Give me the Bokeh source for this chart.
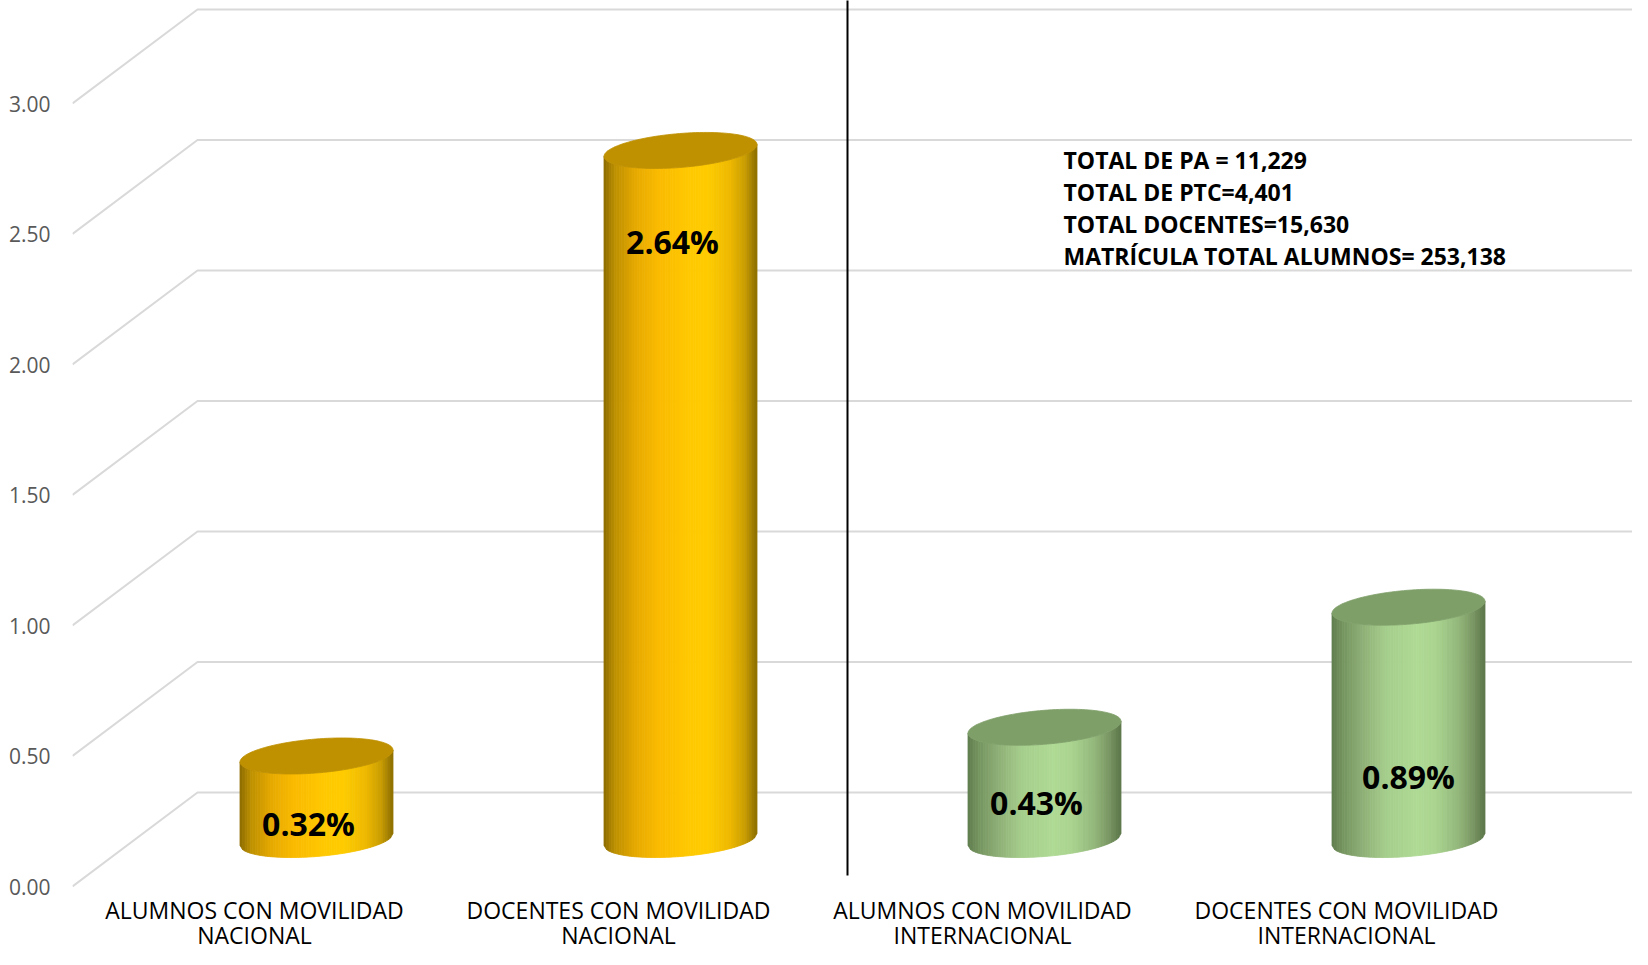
import numpy as np
from bokeh.plotting import figure
from bokeh.models import Range1d, FixedTicker, NumeralTickFormatter
from bokeh.core.properties import value
from bokeh.embed import file_html
from bokeh.resources import INLINE

# ---------------- data ----------------
categories = ["ALUMNOS CON MOVILIDAD\nNACIONAL", "DOCENTES CON MOVILIDAD\nNACIONAL",
              "ALUMNOS CON MOVILIDAD\nINTERNACIONAL", "DOCENTES CON MOVILIDAD\nINTERNACIONAL"]
values = [0.32, 2.64, 0.43, 0.89]
value_labels = ["0.32%", "2.64%", "0.43%", "0.89%"]
groups = ["nacional", "nacional", "internacional", "internacional"]
y_ticks = [0.0, 0.5, 1.0, 1.5, 2.0, 2.5, 3.0]
notes = ["TOTAL DE PA = 11,229", "TOTAL DE PTC=4,401",
         "TOTAL DOCENTES=15,630", "MATRÍCULA TOTAL ALUMNOS= 253,138"]
label_level = [0.24, 2.47, 0.32, 0.42]   # where each value label sits (value units)
label_shift_px = [-8, -8, -8, 0]          # horizontal nudge of each value label

# ---------------- layout helpers (pixels -> data units) ----------------
W, H = 1632, 949
LEFT = 72
PX_X = 364.0          # px per category
PX_Y = 261.0          # px per value unit
Y_TOP = 886 / PX_Y
X_END = (W - LEFT) / PX_X
Y_BOT = Y_TOP - H / PX_Y

def dx(px):
    return px / PX_X

def dy(px):
    return px / PX_Y

BACK_DX, BACK_DY = dx(125), dy(94)
MID_DX, MID_DY = dx(62), dy(47)
A = dx(76.5)          # cylinder half width
B = dy(17)            # ellipse half height
SHEAR = 0.078         # px up per px right

def shear(d_cat):
    return dy(SHEAR * d_cat * PX_X)

p = figure(width=W, height=H, x_range=Range1d(0, X_END), y_range=Range1d(Y_BOT, Y_TOP),
           output_backend="svg", toolbar_location=None, x_axis_location=None,
           min_border_left=LEFT, min_border_right=0, min_border_top=0, min_border_bottom=0,
           outline_line_color=None, background_fill_color="white", border_fill_color="white")
p.xgrid.visible = False
p.ygrid.visible = False

ax = p.yaxis[0]
ax.ticker = FixedTicker(ticks=y_ticks)
ax.formatter = NumeralTickFormatter(format="0.00")
ax.axis_line_color = None
ax.major_tick_line_color = None
ax.minor_tick_line_color = None
ax.major_label_standoff = 16
ax.major_label_text_font = "Open Sans"
ax.major_label_text_font_size = "21px"
ax.major_label_text_color = "#595959"

# ---------------- 3D gridlines ----------------
gx = [[0, BACK_DX, X_END + 1] for _ in y_ticks]
gy = [[v, v + BACK_DY, v + BACK_DY] for v in y_ticks]
p.multi_line(gx, gy, line_color="#D9D9D9", line_width=2)

# ---------------- cylinders ----------------
stops_u = [-1.0, -0.85, -0.6, -0.3, 0.1, 0.35, 0.65, 0.85, 1.0]
palettes = {
    "nacional": dict(body=[(140, 108, 0), (190, 145, 0), (228, 168, 0), (250, 186, 0), (255, 200, 0),
                           (255, 204, 0), (238, 185, 0), (200, 156, 0), (140, 110, 0)],
                     top="#BF9000"),
    "internacional": dict(body=[(96, 125, 78), (118, 150, 96), (142, 175, 118), (165, 205, 140),
                                (174, 218, 148), (170, 212, 144), (148, 184, 124), (120, 150, 98),
                                (92, 118, 74)],
                          top="#7F9F69"),
}

def grad(u, cols):
    arr = np.array(cols, dtype=float)
    r = np.interp(u, stops_u, arr[:, 0])
    g = np.interp(u, stops_u, arr[:, 1])
    b = np.interp(u, stops_u, arr[:, 2])
    return "#%02x%02x%02x" % (int(round(r)), int(round(g)), int(round(b)))

N = 60
bar_cx = [i + 0.5 + MID_DX for i in range(len(values))]
for cx, v, grp in zip(bar_cx, values, groups):
    pal = palettes[grp]
    yb = MID_DY
    yt = v + MID_DY
    xe = cx + A * np.linspace(-1, 1, N + 1)
    ue = (xe - cx) / A
    front = np.array([shear(x - cx) for x in xe]) - B * np.sqrt(np.clip(1 - ue ** 2, 0, 1))
    xs, ys, cols = [], [], []
    for j in range(N):
        x0, x1 = xe[j], xe[j + 1]
        f0, f1 = front[j], front[j + 1]
        xs.append([x0, x1, x1, x0])
        ys.append([yb + f0, yb + f1, yt + f1, yt + f0])
        cols.append(grad((ue[j] + ue[j + 1]) / 2, pal["body"]))
    p.patches(xs, ys, fill_color=cols, line_color=cols, line_width=0.8)
    t = np.linspace(0, 2 * np.pi, 120)
    ex = cx + A * np.cos(t)
    ey = yt + np.array([shear(A * c) for c in np.cos(t)]) + B * np.sin(t)
    p.patch(ex, ey, fill_color=pal["top"], line_color=pal["top"], line_width=0.8)

# value labels
p.text(x=[c + dx(s) for c, s in zip(bar_cx, label_shift_px)], y=label_level, text=value_labels,
       text_font=value("Open Sans"), text_font_style="bold", text_font_size="32px",
       text_color="black", text_align="center", text_baseline="middle")

# separator
p.line(x=[dx(775), dx(775)], y=[dy(11), Y_TOP + 0.2], line_color="black", line_width=2)

# category labels
l1 = [c.split("\n")[0] for c in categories]
l2 = [c.split("\n")[1] for c in categories]
cat_x = [i + 0.5 for i in range(len(categories))]
p.text(x=cat_x, y=[Y_TOP - dy(909)] * len(cat_x), text=l1, text_font=value("Open Sans"),
       text_font_size="23px", text_color="black", text_align="center", text_baseline="middle")
p.text(x=cat_x, y=[Y_TOP - dy(934)] * len(cat_x), text=l2, text_font=value("Open Sans"),
       text_font_size="23px", text_color="black", text_align="center", text_baseline="middle")

# notes
p.text(x=[dx(991)] * len(notes), y=[Y_TOP - dy(159 + 32 * k) for k in range(len(notes))], text=notes,
       text_font=value("Open Sans"), text_font_style="bold", text_font_size="23px",
       text_color="black", text_align="left", text_baseline="middle")

open("out.html", "w").write(file_html(p, INLINE))
